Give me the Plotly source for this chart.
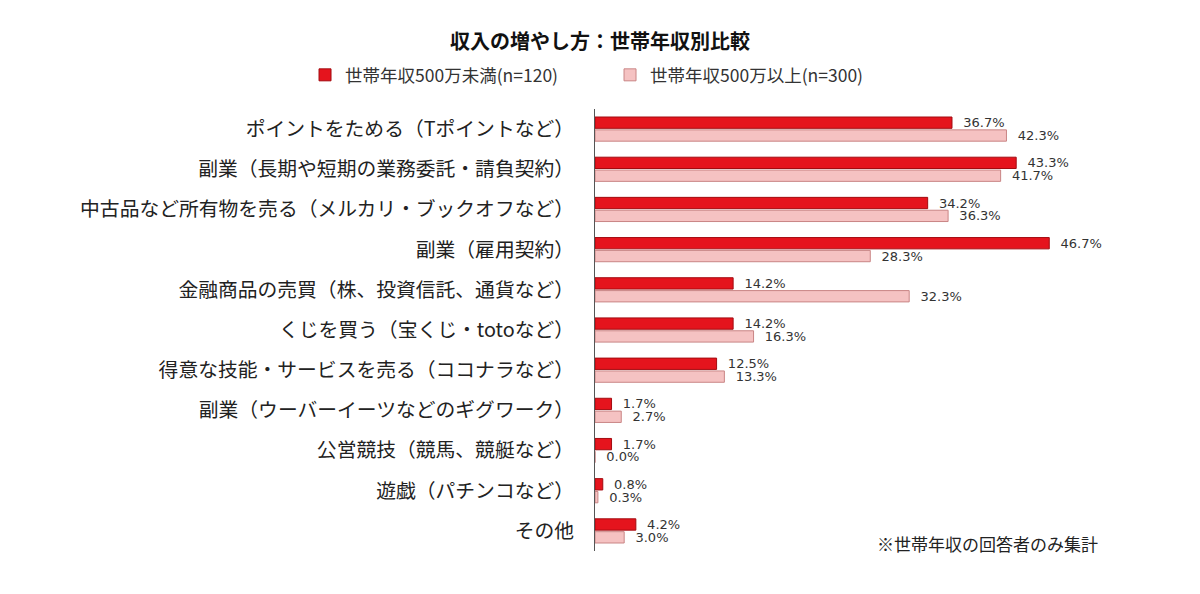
import plotly.graph_objects as go

categories = [
    "ポイントをためる（Tポイントなど）",
    "副業（長期や短期の業務委託・請負契約）",
    "中古品など所有物を売る（メルカリ・ブックオフなど）",
    "副業（雇用契約）",
    "金融商品の売買（株、投資信託、通貨など）",
    "くじを買う（宝くじ・totoなど）",
    "得意な技能・サービスを売る（ココナラなど）",
    "副業（ウーバーイーツなどのギグワーク）",
    "公営競技（競馬、競艇など）",
    "遊戯（パチンコなど）",
    "その他",
]
under500 = [36.7, 43.3, 34.2, 46.7, 14.2, 14.2, 12.5, 1.7, 1.7, 0.8, 4.2]
over500 = [42.3, 41.7, 36.3, 28.3, 32.3, 16.3, 13.3, 2.7, 0.0, 0.3, 3.0]
series_names = ["世帯年収500万未満(n=120)", "世帯年収500万以上(n=300)"]

JP = "Noto Sans CJK JP"

fig = go.Figure()
fig.add_trace(go.Bar(
    y=categories, x=under500, orientation="h", name=series_names[0],
    marker=dict(color="#e5141d", line=dict(color="#a30b10", width=1)),
    texttemplate="\u00a0\u00a0%{x:.1f}%", textposition="outside", constraintext="none",
    textfont=dict(family="DejaVu Sans", size=13, color="#333333"),
    cliponaxis=False,
))
fig.add_trace(go.Bar(
    y=categories, x=over500, orientation="h", name=series_names[1],
    marker=dict(color="#f5c2c2", line=dict(color="#c98585", width=1)),
    texttemplate="\u00a0\u00a0%{x:.1f}%", textposition="outside", constraintext="none",
    textfont=dict(family="DejaVu Sans", size=13, color="#333333"),
    cliponaxis=False,
))

fig.update_layout(
    width=1200, height=594,
    paper_bgcolor="white", plot_bgcolor="white",
    margin=dict(l=595, r=70, t=109, b=43, autoexpand=False),
    barmode="group", bargap=0.36, bargroupgap=0.12,
    font=dict(family=JP, color="#222222"),
    uniformtext=dict(mode=False),
    title=dict(text="<b>収入の増やし方：世帯年収別比較</b>", x=0.5, xanchor="center",
               y=0.93, yanchor="middle", font=dict(family=JP, size=20, color="#111111")),
    legend=dict(orientation="h", xref="paper", x=-0.542, xanchor="left",
                yref="paper", y=1.077, yanchor="middle",
                font=dict(family=JP, size=17.5, color="#333333"),
                itemwidth=30, entrywidthmode="pixels", entrywidth=260),
    showlegend=True,
    xaxis=dict(range=[0, 55], visible=False, showgrid=False, zeroline=False),
    yaxis=dict(autorange="reversed", showgrid=False, zeroline=False,
               showline=True, linecolor="#555555", linewidth=1,
               ticks="", ticklabelstandoff=16,
               tickfont=dict(family=JP, size=19.8, color="#222222")),
    annotations=[dict(text="※世帯年収の回答者のみ集計", xref="paper", yref="paper",
                      x=0.944, y=0.018, xanchor="right", yanchor="middle",
                      showarrow=False,
                      font=dict(family=JP, size=17, color="#222222"))],
)

fig.write_html("out.html")
